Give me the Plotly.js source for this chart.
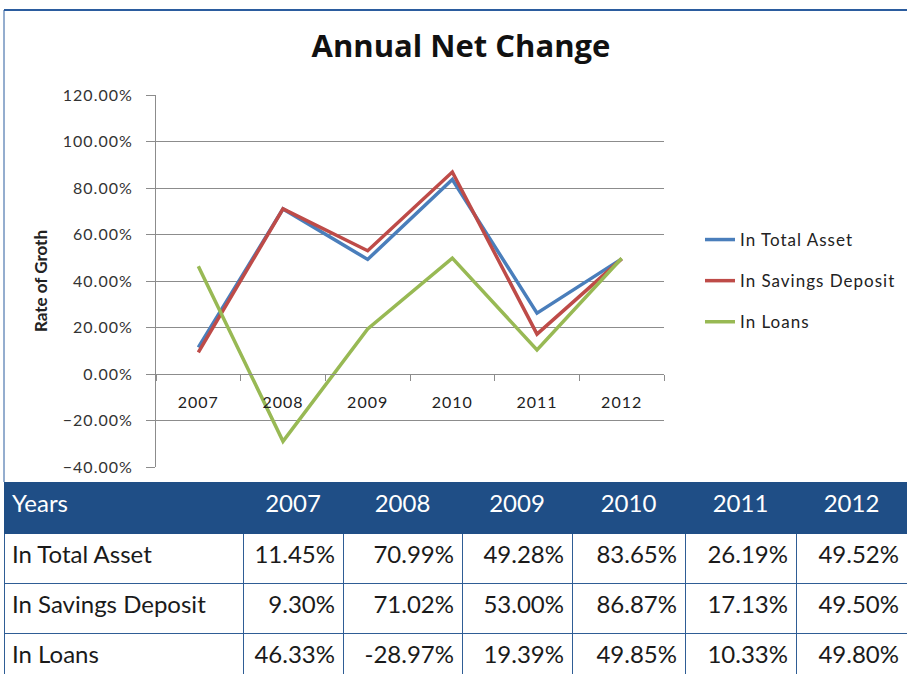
<!DOCTYPE html>
<html>
<head>
<meta charset="utf-8">
<script src="https://cdn.plot.ly/plotly-3.0.1.min.js"></script>
<style>
  html, body { margin: 0; padding: 0; overflow: hidden; background: #fff; }
  #chart { width: 907px; height: 684px; }
  .xtick text, .ytick text, .legendtext { letter-spacing: 1px; }
  .cell-text { translate: 0 4px; }
</style>
</head>
<body>
<div id="chart"></div>
<script>
// ---- data ----
const years = ['2007', '2008', '2009', '2010', '2011', '2012'];
const seriesNames = ['In Total Asset', 'In Savings Deposit', 'In Loans'];
const totalAsset = [11.45, 70.99, 49.28, 83.65, 26.19, 49.52];
const savingsDeposit = [9.30, 71.02, 53.00, 86.87, 17.13, 49.50];
const loans = [46.33, -28.97, 19.39, 49.85, 10.33, 49.80];
const chartTitle = 'Annual Net Change';
const yTitle = 'Rate of Groth';
const tableHeaderLabel = 'Years';

// ---- layout constants (pixels) ----
const W = 907, H = 684;
const px = x => x / W;
const py = y => 1 - y / H;
const yRange = [-40, 120];
const yDom = [py(467), py(95)];
const zeroPos = yDom[0] + (0 - yRange[0]) / (yRange[1] - yRange[0]) * (yDom[1] - yDom[0]);

const colors = ['#4A7EBB', '#BE4B48', '#98B954'];
const seriesValues = [totalAsset, savingsDeposit, loans];

const traces = seriesValues.map((vals, i) => ({
  type: 'scatter',
  mode: 'lines',
  x: years,
  y: vals,
  name: seriesNames[i],
  legendgroup: 'g' + i,
  line: { color: colors[i], width: 3.5 },
  xaxis: 'x', yaxis: 'y',
  hoverinfo: 'skip'
}));

const fmt = v => v.toFixed(2) + '%';
traces.push({
  type: 'table',
  domain: { x: [px(4), 1], y: [0, py(482)] },
  columnwidth: [239, 100, 119, 110, 113, 111, 111],
  header: {
    values: [tableHeaderLabel].concat(years),
    align: ['left', 'center', 'center', 'center', 'center', 'center', 'center'],
    height: 51,
    fill: { color: '#1F4E86' },
    line: { color: '#1F4E86', width: 1 },
    font: { family: 'Lato, "Open Sans", sans-serif', size: 24, color: '#ffffff' }
  },
  cells: {
    values: [seriesNames].concat(years.map((_, j) => seriesValues.map(s => fmt(s[j])))),
    align: ['left', 'right', 'right', 'right', 'right', 'right', 'right'],
    height: 50,
    fill: { color: '#ffffff' },
    line: { color: '#2F5D95', width: 1 },
    font: { family: 'Lato, "Open Sans", sans-serif', size: 24, color: '#1a1a1a' }
  }
});

const gray = '#8C8C8C';
const layout = {
  width: W, height: H,
  margin: { l: 0, r: 0, t: 0, b: 0 },
  paper_bgcolor: '#ffffff',
  plot_bgcolor: '#ffffff',
  showlegend: true,
  title: {
    text: '<b>' + chartTitle + '</b>',
    font: { family: '"Open Sans", Lato, sans-serif', size: 31, color: '#111111' },
    x: px(461), xref: 'paper', xanchor: 'center',
    y: py(46), yref: 'paper', yanchor: 'middle'
  },
  xaxis: {
    type: 'category',
    domain: [px(156), px(664)],
    range: [-0.5, 5.5],
    anchor: 'free',
    position: zeroPos,
    showline: true, linecolor: gray, linewidth: 1,
    showgrid: false, zeroline: false,
    ticks: 'outside', ticklen: 6, tickcolor: gray, tickson: 'boundaries',
    ticklabelstandoff: 14,
    tickfont: { family: 'Lato, "DejaVu Sans", sans-serif', size: 16, color: '#222222' },
    fixedrange: true
  },
  yaxis: {
    domain: yDom,
    range: yRange,
    dtick: 20, tick0: 0,
    tickformat: '.2f', ticksuffix: '%',
    showline: true, linecolor: gray, linewidth: 1,
    showgrid: true, gridcolor: gray, gridwidth: 1,
    zeroline: false,
    ticks: 'outside', ticklen: 9, tickcolor: gray,
    ticklabelstandoff: 10,
    tickfont: { family: 'Lato, "DejaVu Sans", sans-serif', size: 16, color: '#333333' },
    title: {
      text: '<b>' + yTitle + '</b>',
      font: { family: 'Lato, "Open Sans", sans-serif', size: 17, color: '#222222' },
      standoff: 10
    },
    fixedrange: true
  },
  legend: {
    x: px(700), xanchor: 'left',
    y: py(281), yanchor: 'middle',
    bgcolor: 'rgba(0,0,0,0)',
    tracegroupgap: 16,
    font: { family: 'Lato, "DejaVu Sans", sans-serif', size: 17, color: '#222222' }
  },
  shapes: [
    { type: 'line', xref: 'paper', yref: 'paper', x0: px(4), x1: 1, y0: py(10), y1: py(10),
      line: { color: '#2B5C9E', width: 2 } },
    { type: 'line', xref: 'paper', yref: 'paper', x0: px(4), x1: px(4), y0: py(10), y1: py(482),
      line: { color: '#2B5C9E', width: 1 } }
  ]
};

Plotly.newPlot('chart', traces, layout, { displayModeBar: false, staticPlot: true });
</script>
</body>
</html>
